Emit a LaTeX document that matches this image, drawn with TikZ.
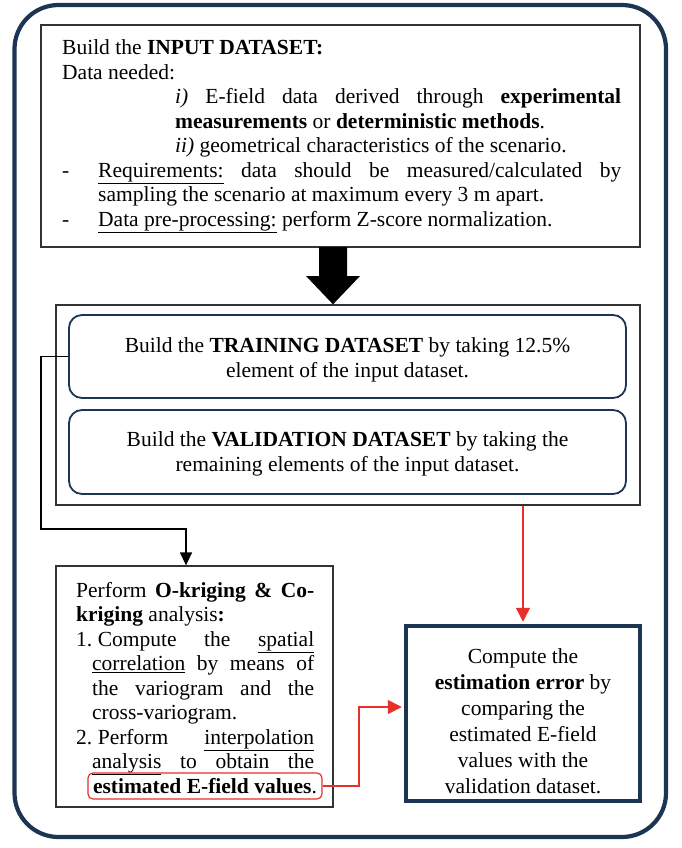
\documentclass[tikz,border=0pt]{standalone}
\usepackage{fontspec}
\setmainfont{Liberation Serif}
\usetikzlibrary{arrows.meta,calc}
\definecolor{navy}{HTML}{1C3553}
\definecolor{myred}{HTML}{E8302A}
\begin{document}
\begin{tikzpicture}[x=1pt,y=-1pt,
  every node/.style={font=\fontsize{21.5}{24.5}\selectfont},
  plainbox/.style={draw=black!80, line width=1.3pt, inner sep=0pt},
  roundbox/.style={draw=navy, line width=1.8pt, rounded corners=13pt, inner sep=0pt,
     minimum width=557pt, align=center, font=\fontsize{21.5}{24.5}\selectfont},
  thickbox/.style={draw=navy, line width=4.5pt, inner sep=0pt},
  redbox/.style={draw=myred, line width=1.2pt, rounded corners=5pt, inner sep=0pt},
  blackarrow/.style={draw=black, line width=1.4pt, -{Triangle[width=12pt,length=13pt]}},
  redarrow/.style={draw=myred, line width=1.4pt, -{Triangle[width=14pt,length=14pt]}},
  textblock/.style={inner sep=0pt, anchor=base west},
]
\useasboundingbox (0,0) rectangle (681,848);
% outer frame
\draw[navy, line width=4.2pt, rounded corners=44pt] (14.5,5) rectangle (666,837);

% input dataset box
\node[plainbox, minimum width=599pt, minimum height=222pt] (input) at (340.5,136) {};
\node[textblock] (inputtext) at (62,55) {\begin{minipage}[t]{559pt}
Build the \textbf{INPUT DATASET:}\par
Data needed:\par
{\leftskip=113pt \textit{i)} E-field data derived through \textbf{experimental}\linebreak
\textbf{measurements} or \textbf{deterministic methods}.\par
\textit{ii)} geometrical characteristics of the scenario.\par}
\hangindent=36pt\hangafter=1 \makebox[36pt][l]{-}\underline{Requirements:} data should be measured/calculated by\linebreak
sampling the scenario at maximum every 3 m apart.\par
\hangindent=36pt\hangafter=1 \makebox[36pt][l]{-}\underline{Data pre-processing:} perform Z-score normalization.\par
\end{minipage}};

% container with training / validation
\node[plainbox, minimum width=584pt, minimum height=200pt] (cont) at (348,405) {};
\node[roundbox, minimum height=83pt] (train) at (347.5,356.5)
  {\raisebox{-4pt}[\height][\depth]{\begin{tabular}{@{}c@{}}Build the \textbf{TRAINING DATASET} by taking 12.5\%\\[0.5pt]element of the input dataset.\end{tabular}}};
\node[roundbox, minimum height=84pt] (valid) at (347.5,452)
  {\raisebox{-2pt}[\height][\depth]{\begin{tabular}{@{}c@{}}Build the \textbf{VALIDATION DATASET} by taking the\\[0.5pt]remaining elements of the input dataset.\end{tabular}}};

% big arrow
\coordinate (bigtop) at (333,247);
\fill[black] ($(bigtop)+(-14,0)$) -- ($(bigtop)+(-14,29)$) -- ($(bigtop)+(-27,29)$)
  -- (bigtop |- cont.north) -- ($(bigtop)+(27,29)$) -- ($(bigtop)+(14,29)$)
  -- ($(bigtop)+(14,0)$) -- cycle;

% kriging box
\node[plainbox, minimum width=277pt, minimum height=241pt] (krig) at (194.5,686.5) {};
\node[textblock] (krigtext) at (76,597) {\begin{minipage}[t]{238pt}
Perform \textbf{O-kriging \& Co-}\linebreak
\textbf{kriging} analysis\textbf{:}\par
\hangindent=16pt\hangafter=1 1.\hspace{5.5pt}Compute the \underline{spatial}\linebreak
\underline{correlation} by means of\linebreak
the variogram and the\linebreak
cross-variogram.\par
{\parfillskip=0pt \hangindent=16pt\hangafter=1 2.\hspace{5.5pt}Perform \underline{interpolation}\linebreak
\underline{analysis} to obtain the\par}
\end{minipage}};
\node[redbox, minimum width=234pt, minimum height=26pt] (est) at (205,786)
  {\textbf{estimated E-field values}.};

% error box
\node[thickbox, minimum width=234pt, minimum height=175pt] (err) at (523,713.5) {};
\node[align=center, inner sep=0pt, font=\fontsize{21.5}{26}\selectfont] (errtext) at (523,721)
  {Compute the\\\textbf{estimation error} by\\comparing the\\estimated E-field\\values with the\\validation dataset.};

% connectors
\coordinate (bendx) at (41,0);
\coordinate (krigin) at (186,529);
\draw[blackarrow] (train.west) -- (train.west -| bendx) |- (krigin) -- (krigin |- krig.north);

\draw[redarrow, shorten >=2pt] (cont.south -| err.north) -- (err.north);

\coordinate (redx) at (359,707);
\draw[redarrow, shorten >=2pt] (est.east) -- (est.east -| redx) -- (redx) -- (redx -| err.west);
\end{tikzpicture}
\end{document}
